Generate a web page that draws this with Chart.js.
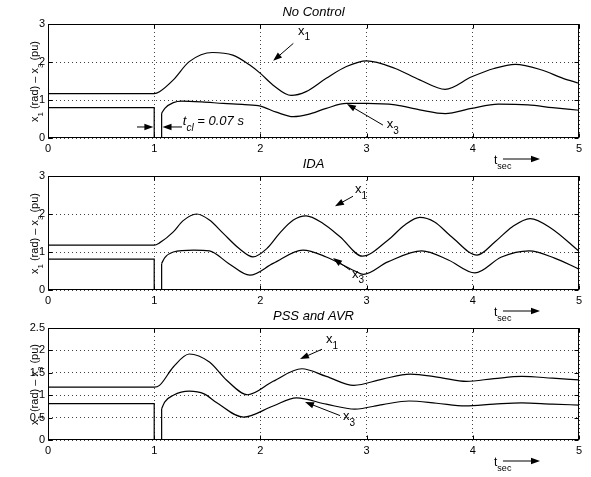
<!DOCTYPE html>
<html>
<head>
<meta charset="utf-8">
<script src="https://cdn.jsdelivr.net/npm/chart.js@4.4.1/dist/chart.umd.min.js"></script>
<style>
    body { margin: 0; background: #fff; width: 591px; height: 477px; overflow: hidden; position: relative; }
    canvas { position: absolute; left: 0; }
</style>
</head>
<body>
<canvas id="noControl" width="591" height="175" style="top:0px"></canvas>
<canvas id="ida" width="591" height="175" style="top:152px"></canvas>
<canvas id="pssAvr" width="591" height="173" style="top:304px"></canvas>
<script>
// time axis
const xTicks = [0, 1, 2, 3, 4, 5];

// fault step of x3 (drops to 0 at t=1, line cleared at t=1.07)
const stepT = [0, 1, 1, 1.07, 1.07];

// No Control
const ncX1T = [0, 1.0, 1.05, 1.18, 1.33, 1.55, 1.74, 1.90, 2.0, 2.12, 2.29, 2.43, 2.62, 2.81, 3.0, 3.27, 3.5, 3.74, 3.99, 4.2, 4.4, 4.65, 4.85, 5.0];
const ncX1 = [1.17, 1.17, 1.22, 1.53, 2.01, 2.25, 2.18, 1.92, 1.70, 1.39, 1.12, 1.22, 1.57, 1.88, 2.03, 1.83, 1.53, 1.28, 1.61, 1.83, 1.94, 1.79, 1.57, 1.44];
const ncX3Step = [0.8, 0.8, 0, 0, 0.65];
const ncX3T = [1.07, 1.1, 1.18, 1.26, 1.45, 1.65, 1.85, 2.0, 2.15, 2.31, 2.45, 2.62, 2.81, 3.0, 3.27, 3.5, 3.74, 3.99, 4.24, 4.52, 4.75, 5.0];
const ncX3 = [0.65, 0.78, 0.93, 0.97, 0.95, 0.91, 0.88, 0.84, 0.68, 0.56, 0.62, 0.78, 0.91, 0.91, 0.87, 0.74, 0.64, 0.78, 0.89, 0.87, 0.80, 0.73];

// IDA
const idaX1T = [0, 1.0, 1.05, 1.18, 1.27, 1.40, 1.52, 1.65, 1.80, 1.93, 2.06, 2.18, 2.31, 2.43, 2.59, 2.75, 2.96, 3.20, 3.36, 3.50, 3.64, 3.80, 4.04, 4.21, 4.37, 4.54, 4.74, 5.0];
const idaX1 = [1.18, 1.18, 1.24, 1.53, 1.82, 2.0, 1.84, 1.49, 1.09, 0.87, 1.09, 1.49, 1.84, 1.95, 1.75, 1.40, 0.89, 1.31, 1.71, 1.91, 1.79, 1.40, 0.92, 1.27, 1.66, 1.88, 1.62, 1.02];
const idaX3Step = [0.81, 0.81, 0, 0, 0.70];
const idaX3T = [1.07, 1.1, 1.18, 1.37, 1.52, 1.70, 1.90, 2.12, 2.40, 2.62, 2.89, 2.97, 3.20, 3.52, 3.77, 4.02, 4.27, 4.53, 4.77, 5.0];
const idaX3 = [0.70, 0.85, 1.00, 1.05, 1.03, 0.70, 0.39, 0.70, 1.05, 0.87, 0.50, 0.41, 0.74, 1.03, 0.79, 0.45, 0.87, 1.03, 0.84, 0.55];

// PSS and AVR
const pssX1T = [0, 1.0, 1.05, 1.18, 1.33, 1.52, 1.68, 1.88, 2.12, 2.39, 2.62, 2.88, 3.15, 3.41, 3.68, 3.94, 4.2, 4.46, 4.75, 5.0];
const pssX1 = [1.18, 1.18, 1.22, 1.63, 1.92, 1.74, 1.34, 1.01, 1.31, 1.59, 1.42, 1.22, 1.36, 1.47, 1.40, 1.31, 1.37, 1.42, 1.38, 1.34];
const pssX3Step = [0.81, 0.81, 0, 0, 0.70];
const pssX3T = [1.07, 1.1, 1.18, 1.33, 1.47, 1.59, 1.84, 2.12, 2.34, 2.62, 2.89, 3.15, 3.40, 3.66, 3.93, 4.2, 4.46, 4.75, 5.0];
const pssX3 = [0.70, 0.85, 1.00, 1.09, 1.03, 0.83, 0.51, 0.76, 0.94, 0.80, 0.69, 0.79, 0.87, 0.82, 0.76, 0.80, 0.83, 0.80, 0.78];

const FONT = '"Liberation Sans", Arial, Helvetica, sans-serif';

function pts(ts, ys) {
    return ts.map((t, i) => ({ x: t, y: ys[i] }));
}

function drawParts(ctx, x, y, parts, size, italic) {
    let cx = x;
    parts.forEach(p => {
        const fs = p.sub ? Math.round(size * 0.77) : size;
        ctx.font = (italic ? "italic " : "") + fs + "px " + FONT;
        ctx.fillText(p.text, cx, p.sub ? y + size * 0.42 : y);
        cx += ctx.measureText(p.text).width;
    });
}

function arrow(ctx, x0, y0, x1, y1) {
    const a = Math.atan2(y1 - y0, x1 - x0);
    ctx.beginPath();
    ctx.moveTo(x0, y0);
    ctx.lineTo(x1 - Math.cos(a) * 6, y1 - Math.sin(a) * 6);
    ctx.stroke();
    ctx.beginPath();
    ctx.moveTo(x1, y1);
    ctx.lineTo(x1 - Math.cos(a) * 9 + Math.sin(a) * 3.2, y1 - Math.sin(a) * 9 - Math.cos(a) * 3.2);
    ctx.lineTo(x1 - Math.cos(a) * 9 - Math.sin(a) * 3.2, y1 - Math.sin(a) * 9 + Math.cos(a) * 3.2);
    ctx.closePath();
    ctx.fill();
}

// frame, inward ticks, y label, curve labels and arrows
const decor = {
    id: "decor",
    afterDraw(chart, args, opts) {
        const { ctx, chartArea: ca, scales } = chart;
        const xs = scales.x, ys = scales.y;
        ctx.save();
        ctx.strokeStyle = "#000";
        ctx.fillStyle = "#000";
        ctx.lineWidth = 1;
        const l = Math.round(ca.left) + 0.5, r = Math.round(ca.right) - 0.5;
        const t = Math.round(ca.top) + 0.5, b = Math.round(ca.bottom) - 0.5;
        ctx.strokeRect(l, t, r - l, b - t);
        ctx.beginPath();
        xs.ticks.forEach(tk => {
            const px = Math.round(xs.getPixelForValue(tk.value)) + 0.5;
            ctx.moveTo(px, b); ctx.lineTo(px, b - 4);
            ctx.moveTo(px, t); ctx.lineTo(px, t + 4);
        });
        ys.ticks.forEach(tk => {
            const py = Math.round(ys.getPixelForValue(tk.value)) + 0.5;
            ctx.moveTo(l, py); ctx.lineTo(l + 4, py);
            ctx.moveTo(r, py); ctx.lineTo(r - 4, py);
        });
        ctx.stroke();

        // y axis label
        ctx.save();
        ctx.translate(38, (ca.top + ca.bottom) / 2);
        ctx.rotate(-Math.PI / 2);
        ctx.textBaseline = "alphabetic";
        const yl = [{ text: "x" }, { text: "1", sub: true }, { text: " (rad) \u2013 x" }, { text: "3", sub: true }, { text: " (pu)" }];
        ctx.font = "11px " + FONT;
        let w = 0;
        yl.forEach(p => {
            ctx.font = (p.sub ? 9 : 11) + "px " + FONT;
            w += ctx.measureText(p.text).width;
        });
        drawParts(ctx, -w / 2, 0, yl, 11, false);
        ctx.restore();

        ctx.textBaseline = "alphabetic";
        (opts.labels || []).forEach(lb => {
            drawParts(ctx, xs.getPixelForValue(lb.t), ys.getPixelForValue(lb.y), lb.parts, lb.size, lb.italic);
        });
        (opts.arrows || []).forEach(ar => {
            arrow(ctx, xs.getPixelForValue(ar.from[0]), ys.getPixelForValue(ar.from[1]),
                xs.getPixelForValue(ar.to[0]), ys.getPixelForValue(ar.to[1]));
        });

        // t_sec arrow below the axis
        const bx = xs.getPixelForValue(4.2);
        drawParts(ctx, bx, ca.bottom + 26, [{ text: "t" }, { text: "sec", sub: true }], 12, false);
        arrow(ctx, xs.getPixelForValue(4.284), ca.bottom + 21, xs.getPixelForValue(4.633), ca.bottom + 21);
        ctx.restore();
    }
};

function makeChart(id, title, yMax, yStep, x1, x3Step, x3, decorOpts) {
    const line = { borderColor: "#000", borderWidth: 1.2, pointRadius: 0, fill: false };
    return new Chart(document.getElementById(id).getContext("2d"), {
        type: "line",
        data: {
            datasets: [
                Object.assign({ label: "x1", data: x1, cubicInterpolationMode: "monotone" }, line),
                Object.assign({ label: "x3 fault", data: x3Step, tension: 0 }, line),
                Object.assign({ label: "x3", data: x3, cubicInterpolationMode: "monotone" }, line)
            ]
        },
        options: {
            responsive: false,
            animation: false,
            layout: { padding: { left: 0, right: 12, top: 0, bottom: 17 } },
            plugins: {
                legend: { display: false },
                tooltip: { enabled: false },
                title: {
                    display: true,
                    text: title,
                    fullSize: false,
                    color: "#000",
                    font: { family: FONT, size: 13, style: "italic", weight: "normal" },
                    padding: { top: 5, bottom: 3.4 }
                },
                decor: decorOpts
            },
            scales: {
                x: {
                    type: "linear",
                    min: 0, max: 5,
                    afterBuildTicks: s => { s.ticks = xTicks.map(v => ({ value: v })); },
                    afterFit: s => { s.height = 20; },
                    grid: { color: "#444", lineWidth: 1, drawTicks: false },
                    border: { display: false, dash: [1, 3] },
                    ticks: { color: "#000", padding: 4, font: { family: FONT, size: 11 }, callback: v => String(v) }
                },
                y: {
                    min: 0, max: yMax,
                    ticks: { stepSize: yStep, color: "#000", padding: 3, font: { family: FONT, size: 11 }, callback: v => String(v) },
                    afterFit: s => { s.width = 48; },
                    grid: { color: "#444", lineWidth: 1, drawTicks: false },
                    border: { display: false, dash: [1, 3] }
                }
            }
        },
        plugins: [decor]
    });
}

document.addEventListener("DOMContentLoaded", () => {
    makeChart("noControl", "No Control", 3, 1, pts(ncX1T, ncX1), pts(stepT, ncX3Step), pts(ncX3T, ncX3), {
        labels: [
            { t: 2.354, y: 2.71, parts: [{ text: "x" }, { text: "1", sub: true }], size: 13 },
            { t: 3.19, y: 0.26, parts: [{ text: "x" }, { text: "3", sub: true }], size: 13 },
            { t: 1.27, y: 0.34, parts: [{ text: "t" }, { text: "cl", sub: true }, { text: " = 0.07 s" }], size: 13, italic: true }
        ],
        arrows: [
            { from: [2.31, 2.49], to: [2.12, 2.03] },
            { from: [3.154, 0.34], to: [2.815, 0.895] },
            { from: [0.838, 0.29], to: [0.992, 0.29] },
            { from: [1.262, 0.29], to: [1.078, 0.29] }
        ]
    });

    makeChart("ida", "IDA", 3, 1, pts(idaX1T, idaX1), pts(stepT, idaX3Step), pts(idaX3T, idaX3), {
        labels: [
            { t: 2.891, y: 2.546, parts: [{ text: "x" }, { text: "1", sub: true }], size: 13 },
            { t: 2.862, y: 0.315, parts: [{ text: "x" }, { text: "3", sub: true }], size: 13 }
        ],
        arrows: [
            { from: [2.872, 2.467], to: [2.702, 2.205] },
            { from: [2.844, 0.525], to: [2.684, 0.84] }
        ]
    });

    makeChart("pssAvr", "PSS and AVR", 2.5, 0.5, pts(pssX1T, pssX1), pts(stepT, pssX3Step), pts(pssX3T, pssX3), {
        labels: [
            { t: 2.618, y: 2.157, parts: [{ text: "x" }, { text: "1", sub: true }], size: 13 },
            { t: 2.778, y: 0.436, parts: [{ text: "x" }, { text: "3", sub: true }], size: 13 }
        ],
        arrows: [
            { from: [2.58, 2.026], to: [2.373, 1.808] },
            { from: [2.75, 0.545], to: [2.42, 0.85] }
        ]
    });
});
</script>
</body>
</html>
